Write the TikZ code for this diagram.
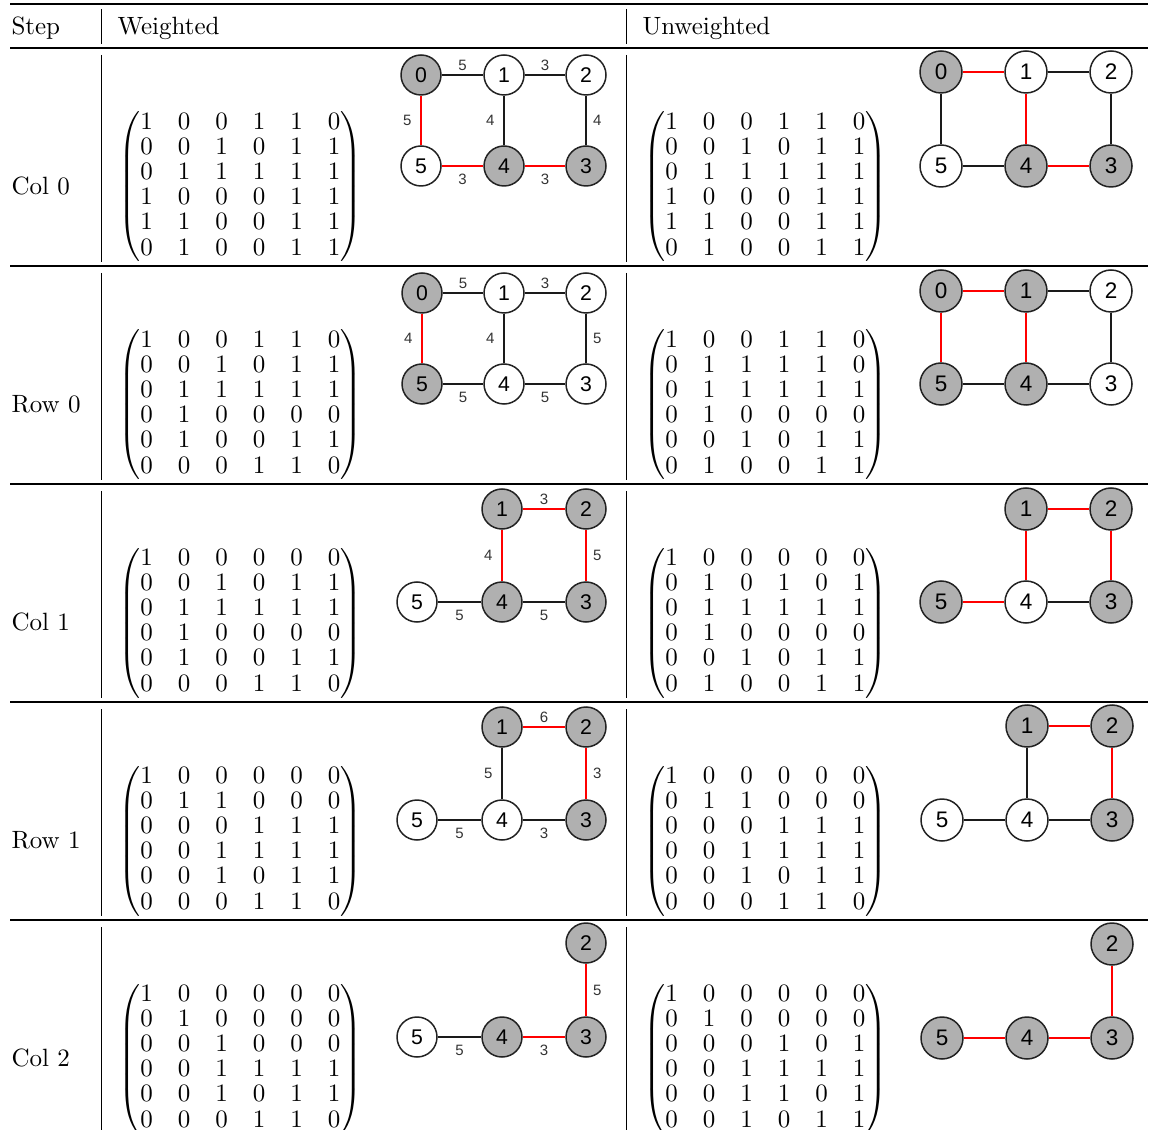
\documentclass[tikz,border=0pt]{standalone}
\usepackage{amsmath}
\usepackage{fontspec}
\newfontfamily\graphfont{Liberation Sans}
\renewcommand{\arraystretch}{0.84}

\begin{document}
\begin{tikzpicture}[x=0.4pt,y=-0.4pt,
    txt/.style={anchor=west, inner sep=0pt},
    mat/.style={anchor=west, inner sep=0pt},
    vtx/.style={circle, draw=borderColour, line width=0.6pt, fill=white, inner sep=0pt,
        minimum size=16pt, font=\graphfont\fontsize{8.5}{9}\selectfont},
    vtxU/.style={vtx, minimum size=16.8pt, font=\graphfont\fontsize{9}{10}\selectfont},
    seen/.style={fill=fillColour},
    edgeBlk/.style={draw=edgeColourBlk, line width=1.1pt},
    edgeRed/.style={draw=edgeColour, line width=1.1pt},
    wlab/.style={font=\graphfont\fontsize{6}{7}\selectfont, text=labelColour, inner sep=1pt},
    wN/.style={wlab, above},
    wS/.style={wlab, below=1.6pt},
    wW/.style={wlab, left=2.3pt},
    wE/.style={wlab, right=1.3pt}]
    \definecolor{borderColour}{HTML}{222222}
    \definecolor{fillColour}{HTML}{B0B0B0}
    \definecolor{edgeColour}{HTML}{FF0000}
    \definecolor{edgeColourBlk}{HTML}{1A1A1A}
    \definecolor{labelColour}{HTML}{333333}

    \useasboundingbox (0,0) rectangle (1151,1130);

    % Draw rules
    \draw[line width=0.8pt] (10,4) -- (1148,4);
    \foreach \y in {48,266,484,702,920}
        \draw[line width=0.5pt] (10,\y) -- (1148,\y);
    \foreach \x in {101,626} {
        \draw[line width=0.4pt] (\x,9) -- (\x,44);
        \foreach \y in {48,266,484,702}
            \draw[line width=0.4pt] (\x,\y+7) -- (\x,\y+214);
        \draw[line width=0.4pt] (\x,927) -- (\x,1130);
    }

    % Header
    \node[txt] (hStep) at (11,28) {Step};
    \node[txt] (hWeighted) at (117,28) {Weighted};
    \node[txt] (hUnweighted) at (642,28) {Unweighted};

    % Step labels
    \node[txt] (sA) at (11,186) {Col 0};
    \node[txt] (sB) at (11,404) {Row 0};
    \node[txt] (sC) at (11,622) {Col 1};
    \node[txt] (sD) at (11,840) {Row 1};
    \node[txt] (sE) at (11,1058) {Col 2};

    % Matrices, weighted
    \node[mat] (wmA) at (118,187) {$\begin{pmatrix}
        1&0&0&1&1&0\\ 0&0&1&0&1&1\\ 0&1&1&1&1&1\\ 1&0&0&0&1&1\\ 1&1&0&0&1&1\\ 0&1&0&0&1&1
    \end{pmatrix}$};
    \node[mat] (wmB) at (118,405) {$\begin{pmatrix}
        1&0&0&1&1&0\\ 0&0&1&0&1&1\\ 0&1&1&1&1&1\\ 0&1&0&0&0&0\\ 0&1&0&0&1&1\\ 0&0&0&1&1&0
    \end{pmatrix}$};
    \node[mat] (wmC) at (118,623) {$\begin{pmatrix}
        1&0&0&0&0&0\\ 0&0&1&0&1&1\\ 0&1&1&1&1&1\\ 0&1&0&0&0&0\\ 0&1&0&0&1&1\\ 0&0&0&1&1&0
    \end{pmatrix}$};
    \node[mat] (wmD) at (118,841) {$\begin{pmatrix}
        1&0&0&0&0&0\\ 0&1&1&0&0&0\\ 0&0&0&1&1&1\\ 0&0&1&1&1&1\\ 0&0&1&0&1&1\\ 0&0&0&1&1&0
    \end{pmatrix}$};
    \node[mat] (wmE) at (118,1059) {$\begin{pmatrix}
        1&0&0&0&0&0\\ 0&1&0&0&0&0\\ 0&0&1&0&0&0\\ 0&0&1&1&1&1\\ 0&0&1&0&1&1\\ 0&0&0&1&1&0
    \end{pmatrix}$};

    % Matrices, unweighted
    \node[mat] (umA) at (643,187) {$\begin{pmatrix}
        1&0&0&1&1&0\\ 0&0&1&0&1&1\\ 0&1&1&1&1&1\\ 1&0&0&0&1&1\\ 1&1&0&0&1&1\\ 0&1&0&0&1&1
    \end{pmatrix}$};
    \node[mat] (umB) at (643,405) {$\begin{pmatrix}
        1&0&0&1&1&0\\ 0&1&1&1&1&0\\ 0&1&1&1&1&1\\ 0&1&0&0&0&0\\ 0&0&1&0&1&1\\ 0&1&0&0&1&1
    \end{pmatrix}$};
    \node[mat] (umC) at (643,623) {$\begin{pmatrix}
        1&0&0&0&0&0\\ 0&1&0&1&0&1\\ 0&1&1&1&1&1\\ 0&1&0&0&0&0\\ 0&0&1&0&1&1\\ 0&1&0&0&1&1
    \end{pmatrix}$};
    \node[mat] (umD) at (643,841) {$\begin{pmatrix}
        1&0&0&0&0&0\\ 0&1&1&0&0&0\\ 0&0&0&1&1&1\\ 0&0&1&1&1&1\\ 0&0&1&0&1&1\\ 0&0&0&1&1&0
    \end{pmatrix}$};
    \node[mat] (umE) at (643,1059) {$\begin{pmatrix}
        1&0&0&0&0&0\\ 0&1&0&0&0&0\\ 0&0&0&1&0&1\\ 0&0&1&1&1&1\\ 0&0&1&1&0&1\\ 0&0&1&0&1&1
    \end{pmatrix}$};

    % Col 0, weighted graph
    \node[vtx,seen] (wa0) at (421,75) {0};
    \node[vtx] (wa1) at (504,75) {1};
    \node[vtx] (wa2) at (586,75) {2};
    \node[vtx] (wa5) at (421,166) {5};
    \node[vtx,seen] (wa4) at (504,166) {4};
    \node[vtx,seen] (wa3) at (586,166) {3};
    \draw[edgeBlk] (wa0) -- node[wN] {5} (wa1);
    \draw[edgeBlk] (wa1) -- node[wN] {3} (wa2);
    \draw[edgeRed] (wa0) -- node[wW] {5} (wa5);
    \draw[edgeBlk] (wa1) -- node[wW] {4} (wa4);
    \draw[edgeBlk] (wa2) -- node[wE] {4} (wa3);
    \draw[edgeRed] (wa5) -- node[wS] {3} (wa4);
    \draw[edgeRed] (wa4) -- node[wS] {3} (wa3);

    % Row 0, weighted graph
    \node[vtx,seen] (wb0) at (422,293) {0};
    \node[vtx] (wb1) at (504,293) {1};
    \node[vtx] (wb2) at (586,293) {2};
    \node[vtx,seen] (wb5) at (422,384) {5};
    \node[vtx] (wb4) at (504,384) {4};
    \node[vtx] (wb3) at (586,384) {3};
    \draw[edgeBlk] (wb0) -- node[wN] {5} (wb1);
    \draw[edgeBlk] (wb1) -- node[wN] {3} (wb2);
    \draw[edgeRed] (wb0) -- node[wW] {4} (wb5);
    \draw[edgeBlk] (wb1) -- node[wW] {4} (wb4);
    \draw[edgeBlk] (wb2) -- node[wE] {5} (wb3);
    \draw[edgeBlk] (wb5) -- node[wS] {5} (wb4);
    \draw[edgeBlk] (wb4) -- node[wS] {5} (wb3);

    % Col 1, weighted graph
    \node[vtx,seen] (wc1) at (502,509) {1};
    \node[vtx,seen] (wc2) at (586,509) {2};
    \node[vtx] (wc5) at (417,602) {5};
    \node[vtx,seen] (wc4) at (502,602) {4};
    \node[vtx,seen] (wc3) at (586,602) {3};
    \draw[edgeRed] (wc1) -- node[wN] {3} (wc2);
    \draw[edgeRed] (wc1) -- node[wW] {4} (wc4);
    \draw[edgeRed] (wc2) -- node[wE] {5} (wc3);
    \draw[edgeBlk] (wc5) -- node[wS] {5} (wc4);
    \draw[edgeBlk] (wc4) -- node[wS] {5} (wc3);

    % Row 1, weighted graph
    \node[vtx,seen] (wd1) at (502,727) {1};
    \node[vtx,seen] (wd2) at (586,727) {2};
    \node[vtx] (wd5) at (417,820) {5};
    \node[vtx] (wd4) at (502,820) {4};
    \node[vtx,seen] (wd3) at (586,820) {3};
    \draw[edgeRed] (wd1) -- node[wN] {6} (wd2);
    \draw[edgeBlk] (wd1) -- node[wW] {5} (wd4);
    \draw[edgeRed] (wd2) -- node[wE] {3} (wd3);
    \draw[edgeBlk] (wd5) -- node[wS] {5} (wd4);
    \draw[edgeBlk] (wd4) -- node[wS] {3} (wd3);

    % Col 2, weighted graph
    \node[vtx,seen] (we2) at (586,943) {2};
    \node[vtx] (we5) at (417,1037) {5};
    \node[vtx,seen] (we4) at (502,1037) {4};
    \node[vtx,seen] (we3) at (586,1037) {3};
    \draw[edgeRed] (we2) -- node[wE] {5} (we3);
    \draw[edgeBlk] (we5) -- node[wS] {5} (we4);
    \draw[edgeRed] (we4) -- node[wS] {3} (we3);

    % Col 0, unweighted graph
    \node[vtxU,seen] (ua0) at (941,72) {0};
    \node[vtxU] (ua1) at (1026,72) {1};
    \node[vtxU] (ua2) at (1111,72) {2};
    \node[vtxU] (ua5) at (941,166) {5};
    \node[vtxU,seen] (ua4) at (1026,166) {4};
    \node[vtxU,seen] (ua3) at (1111,166) {3};
    \draw[edgeRed] (ua0) -- (ua1);
    \draw[edgeBlk] (ua1) -- (ua2);
    \draw[edgeBlk] (ua0) -- (ua5);
    \draw[edgeRed] (ua1) -- (ua4);
    \draw[edgeBlk] (ua2) -- (ua3);
    \draw[edgeBlk] (ua5) -- (ua4);
    \draw[edgeRed] (ua4) -- (ua3);

    % Row 0, unweighted graph
    \node[vtxU,seen] (ub0) at (941,291) {0};
    \node[vtxU,seen] (ub1) at (1026,291) {1};
    \node[vtxU] (ub2) at (1111,291) {2};
    \node[vtxU,seen] (ub5) at (941,384) {5};
    \node[vtxU,seen] (ub4) at (1026,384) {4};
    \node[vtxU] (ub3) at (1111,384) {3};
    \draw[edgeRed] (ub0) -- (ub1);
    \draw[edgeBlk] (ub1) -- (ub2);
    \draw[edgeRed] (ub0) -- (ub5);
    \draw[edgeRed] (ub1) -- (ub4);
    \draw[edgeBlk] (ub2) -- (ub3);
    \draw[edgeBlk] (ub5) -- (ub4);
    \draw[edgeBlk] (ub4) -- (ub3);

    % Col 1, unweighted graph
    \node[vtxU,seen] (uc1) at (1026,509) {1};
    \node[vtxU,seen] (uc2) at (1111,509) {2};
    \node[vtxU,seen] (uc5) at (941,602) {5};
    \node[vtxU] (uc4) at (1026,602) {4};
    \node[vtxU,seen] (uc3) at (1111,602) {3};
    \draw[edgeRed] (uc1) -- (uc2);
    \draw[edgeRed] (uc1) -- (uc4);
    \draw[edgeRed] (uc2) -- (uc3);
    \draw[edgeRed] (uc5) -- (uc4);
    \draw[edgeBlk] (uc4) -- (uc3);

    % Row 1, unweighted graph
    \node[vtxU,seen] (ud1) at (1027,726) {1};
    \node[vtxU,seen] (ud2) at (1112,726) {2};
    \node[vtxU] (ud5) at (942,820) {5};
    \node[vtxU] (ud4) at (1027,820) {4};
    \node[vtxU,seen] (ud3) at (1112,820) {3};
    \draw[edgeRed] (ud1) -- (ud2);
    \draw[edgeBlk] (ud1) -- (ud4);
    \draw[edgeRed] (ud2) -- (ud3);
    \draw[edgeBlk] (ud5) -- (ud4);
    \draw[edgeBlk] (ud4) -- (ud3);

    % Col 2, unweighted graph
    \node[vtxU,seen] (ue2) at (1112,944) {2};
    \node[vtxU,seen] (ue5) at (942,1038) {5};
    \node[vtxU,seen] (ue4) at (1027,1038) {4};
    \node[vtxU,seen] (ue3) at (1112,1038) {3};
    \draw[edgeRed] (ue2) -- (ue3);
    \draw[edgeRed] (ue5) -- (ue4);
    \draw[edgeRed] (ue4) -- (ue3);

\end{tikzpicture}
\end{document}
